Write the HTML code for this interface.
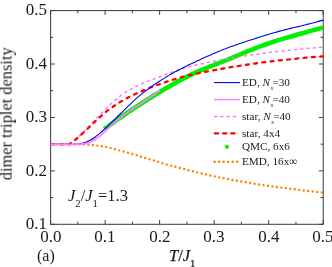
<!DOCTYPE html>
<html><head><meta charset="utf-8"><style>
html,body{margin:0;padding:0;background:#fff;}
body{width:332px;height:267px;position:relative;overflow:hidden;font-family:"Liberation Serif",serif;color:#1a1a1a;}
.t{will-change:transform;position:absolute;white-space:nowrap;line-height:1;}
.xl{font-size:16.2px;top:229.3px;width:40px;text-align:center;transform:scaleX(1.05);}
.yl{font-size:16.2px;left:0;width:47px;text-align:right;transform:scaleX(1.05);transform-origin:100% 50%;}
.lg{font-size:11px;left:242px;}
i{font-style:italic;}
sub{font-size:65%;vertical-align:baseline;position:relative;top:0.58em;}
.lg{font-size:11.2px;}
.lg sub{font-style:italic;font-size:60%;top:0.55em;margin-left:0.4px;margin-right:-0.6px;}
</style></head><body>
<svg width="332" height="267" viewBox="0 0 332 267" style="position:absolute;left:0;top:0">
<defs><clipPath id="c"><rect x="50.1" y="10.1" width="273.7" height="214.7"/></clipPath></defs>
<g stroke="#3a3a3a" stroke-width="1" fill="none">
<rect x="50.6" y="10.6" width="272.6" height="213.7"/>
<path d="M50.60 224.30 v-4.3 M50.60 10.60 v4.3"/>
<path d="M77.86 224.30 v-2.6 M77.86 10.60 v2.6"/>
<path d="M105.12 224.30 v-4.3 M105.12 10.60 v4.3"/>
<path d="M132.38 224.30 v-2.6 M132.38 10.60 v2.6"/>
<path d="M159.64 224.30 v-4.3 M159.64 10.60 v4.3"/>
<path d="M186.90 224.30 v-2.6 M186.90 10.60 v2.6"/>
<path d="M214.16 224.30 v-4.3 M214.16 10.60 v4.3"/>
<path d="M241.42 224.30 v-2.6 M241.42 10.60 v2.6"/>
<path d="M268.68 224.30 v-4.3 M268.68 10.60 v4.3"/>
<path d="M295.94 224.30 v-2.6 M295.94 10.60 v2.6"/>
<path d="M323.20 224.30 v-4.3 M323.20 10.60 v4.3"/>
<path d="M50.60 224.30 h4.3 M323.20 224.30 h-4.3"/>
<path d="M50.60 197.59 h2.6 M323.20 197.59 h-2.6"/>
<path d="M50.60 170.88 h4.3 M323.20 170.88 h-4.3"/>
<path d="M50.60 144.16 h2.6 M323.20 144.16 h-2.6"/>
<path d="M50.60 117.45 h4.3 M323.20 117.45 h-4.3"/>
<path d="M50.60 90.74 h2.6 M323.20 90.74 h-2.6"/>
<path d="M50.60 64.02 h4.3 M323.20 64.02 h-4.3"/>
<path d="M50.60 37.31 h2.6 M323.20 37.31 h-2.6"/>
<path d="M50.60 10.60 h4.3 M323.20 10.60 h-4.3"/>
</g>
<g fill="none" clip-path="url(#c)">
<path d="M104.3 129.2 L109.3 125.5C110.1 124.8 112.6 123.0 114.3 121.8C116.0 120.6 117.6 119.4 119.3 118.2C121.0 117.1 122.6 115.9 124.3 114.8C126.0 113.6 127.6 112.5 129.3 111.4C131.0 110.3 132.6 109.2 134.3 108.1C136.0 107.0 137.6 105.9 139.3 104.8C141.0 103.7 142.6 102.7 144.3 101.6C146.0 100.5 147.6 99.5 149.3 98.4C151.0 97.4 152.6 96.4 154.3 95.3C156.0 94.3 157.6 93.3 159.3 92.3C161.0 91.3 162.6 90.3 164.3 89.3C166.0 88.3 167.6 87.4 169.3 86.4C171.0 85.4 172.6 84.5 174.3 83.5C176.0 82.6 177.6 81.7 179.3 80.8C181.0 79.9 182.6 79.0 184.3 78.1C186.0 77.3 187.6 76.4 189.3 75.6C191.0 74.8 192.6 74.0 194.3 73.2C196.0 72.4 197.6 71.7 199.3 71.0C201.0 70.2 202.6 69.5 204.3 68.8C206.0 68.1 207.6 67.4 209.3 66.8C211.0 66.1 212.6 65.5 214.3 64.8C216.0 64.2 217.6 63.5 219.3 62.9C221.0 62.2 222.6 61.6 224.3 60.9C226.0 60.3 227.6 59.6 229.3 58.9C231.0 58.3 232.6 57.6 234.3 56.9C236.0 56.2 237.6 55.5 239.3 54.8C241.0 54.1 242.6 53.4 244.3 52.7C246.0 52.0 247.6 51.3 249.3 50.6C251.0 50.0 252.6 49.3 254.3 48.6C256.0 48.0 257.6 47.3 259.3 46.7C261.0 46.1 262.6 45.5 264.3 44.9C266.0 44.3 267.6 43.7 269.3 43.2C271.0 42.6 272.6 42.0 274.3 41.5C276.0 41.0 277.6 40.5 279.3 39.9C281.0 39.4 282.6 38.9 284.3 38.4C286.0 37.9 287.6 37.4 289.3 37.0C291.0 36.5 292.6 36.0 294.3 35.5C296.0 35.0 297.6 34.5 299.3 34.1C301.0 33.6 302.6 33.1 304.3 32.7C306.0 32.2 307.6 31.7 309.3 31.3C311.0 30.8 312.6 30.4 314.3 29.9C316.0 29.5 317.8 29.0 319.3 28.6C320.8 28.2 322.6 27.8 323.2 27.6" stroke="#00f000" stroke-width="4.6"/>
<path d="M50.6 144.3C51.4 144.3 53.9 144.3 55.6 144.3C57.3 144.3 58.9 144.3 60.6 144.3C62.3 144.3 63.9 144.3 65.6 144.3C67.3 144.3 68.9 144.3 70.6 144.3C72.3 144.3 73.9 144.3 75.6 144.3C77.3 144.3 78.9 144.3 80.6 144.3C82.3 144.4 83.9 144.4 85.6 144.5C87.3 144.6 88.9 144.7 90.6 144.8C92.3 145.0 93.9 145.1 95.6 145.4C97.3 145.6 98.9 145.8 100.6 146.1C102.3 146.4 103.9 146.7 105.6 147.0C107.3 147.3 108.9 147.7 110.6 148.1C112.3 148.5 113.9 148.9 115.6 149.3C117.3 149.8 118.9 150.2 120.6 150.7C122.3 151.1 123.9 151.6 125.6 152.1C127.3 152.6 128.9 153.0 130.6 153.5C132.3 154.0 133.9 154.5 135.6 155.0C137.3 155.5 138.9 156.1 140.6 156.6C142.3 157.1 143.9 157.6 145.6 158.1C147.3 158.6 148.9 159.1 150.6 159.6C152.3 160.1 153.9 160.6 155.6 161.1C157.3 161.6 158.9 162.1 160.6 162.6C162.3 163.1 163.9 163.6 165.6 164.1C167.3 164.5 168.9 165.0 170.6 165.5C172.3 165.9 173.9 166.4 175.6 166.8C177.3 167.3 178.9 167.7 180.6 168.2C182.3 168.6 183.9 169.0 185.6 169.4C187.3 169.9 188.9 170.3 190.6 170.7C192.3 171.1 193.9 171.5 195.6 171.9C197.3 172.4 198.9 172.8 200.6 173.2C202.3 173.6 203.9 174.0 205.6 174.3C207.3 174.7 208.9 175.1 210.6 175.5C212.3 175.9 213.9 176.2 215.6 176.6C217.3 176.9 218.9 177.3 220.6 177.6C222.3 178.0 223.9 178.3 225.6 178.6C227.3 179.0 228.9 179.3 230.6 179.6C232.3 179.9 233.9 180.2 235.6 180.5C237.3 180.8 238.9 181.1 240.6 181.4C242.3 181.7 243.9 182.0 245.6 182.2C247.3 182.5 248.9 182.8 250.6 183.1C252.3 183.4 253.9 183.6 255.6 183.9C257.3 184.2 258.9 184.4 260.6 184.7C262.3 184.9 263.9 185.2 265.6 185.4C267.3 185.7 268.9 185.9 270.6 186.1C272.3 186.4 273.9 186.6 275.6 186.8C277.3 187.0 278.9 187.3 280.6 187.5C282.3 187.7 283.9 187.9 285.6 188.1C287.3 188.3 288.9 188.5 290.6 188.8C292.3 189.0 293.9 189.2 295.6 189.4C297.3 189.6 298.9 189.8 300.6 190.1C302.3 190.3 303.9 190.5 305.6 190.7C307.3 190.9 308.9 191.1 310.6 191.3C312.3 191.5 313.9 191.7 315.6 191.9C317.3 192.0 319.3 192.3 320.6 192.4C321.9 192.5 322.8 192.7 323.2 192.7" stroke="#ff8000" stroke-width="2.4" stroke-linecap="round" stroke-dasharray="0 4.5" stroke-dashoffset="-1.8"/>
<path d="M50.6 144.3 L68.8 144.3C69.6 143.7 72.1 141.9 73.8 140.6C75.5 139.3 77.1 137.9 78.8 136.4C80.5 134.9 82.1 133.4 83.8 131.7C85.5 130.1 87.1 128.4 88.8 126.7C90.5 124.9 92.1 123.2 93.8 121.4C95.5 119.6 97.1 117.8 98.8 116.0C100.5 114.3 102.1 112.5 103.8 110.8C105.5 109.1 107.1 107.4 108.8 105.9C110.5 104.3 112.1 102.8 113.8 101.3C115.5 99.9 117.1 98.5 118.8 97.2C120.5 95.9 122.1 94.7 123.8 93.6C125.5 92.4 127.1 91.4 128.8 90.4C130.5 89.4 132.1 88.4 133.8 87.5C135.5 86.7 137.1 85.8 138.8 85.1C140.5 84.3 142.1 83.6 143.8 82.9C145.5 82.2 147.1 81.5 148.8 80.9C150.5 80.2 152.1 79.6 153.8 79.0C155.5 78.3 157.1 77.7 158.8 77.1C160.5 76.4 162.1 75.8 163.8 75.2C165.5 74.5 167.1 73.9 168.8 73.3C170.5 72.7 172.1 72.1 173.8 71.5C175.5 70.9 177.1 70.3 178.8 69.8C180.5 69.2 182.1 68.7 183.8 68.2C185.5 67.7 187.1 67.3 188.8 66.8C190.5 66.4 192.1 65.9 193.8 65.5C195.5 65.1 197.1 64.7 198.8 64.4C200.5 64.0 202.1 63.6 203.8 63.3C205.5 62.9 207.1 62.6 208.8 62.3C210.5 61.9 212.1 61.6 213.8 61.3C215.5 61.0 217.1 60.7 218.8 60.3C220.5 60.0 222.1 59.7 223.8 59.4C225.5 59.1 227.1 58.8 228.8 58.6C230.5 58.3 232.1 58.0 233.8 57.7C235.5 57.4 237.1 57.2 238.8 56.9C240.5 56.6 242.1 56.4 243.8 56.1C245.5 55.8 247.1 55.6 248.8 55.3C250.5 55.1 252.1 54.8 253.8 54.6C255.5 54.4 257.1 54.1 258.8 53.9C260.5 53.7 262.1 53.4 263.8 53.2C265.5 53.0 267.1 52.8 268.8 52.6C270.5 52.4 272.1 52.2 273.8 52.0C275.5 51.8 277.1 51.6 278.8 51.4C280.5 51.2 282.1 51.1 283.8 50.9C285.5 50.7 287.1 50.5 288.8 50.3C290.5 50.2 292.1 50.0 293.8 49.8C295.5 49.6 297.1 49.5 298.8 49.3C300.5 49.1 302.1 49.0 303.8 48.8C305.5 48.6 307.1 48.5 308.8 48.3C310.5 48.2 312.1 48.0 313.8 47.9C315.5 47.7 317.2 47.6 318.8 47.4C320.4 47.3 322.5 47.1 323.2 47.0" stroke="#f97cf9" stroke-width="1.5" stroke-linecap="round" stroke-dasharray="2.1 4.2"/>
<path d="M50.6 144.3 L69.3 144.3C70.1 143.7 72.6 141.9 74.3 140.6C76.0 139.3 77.6 137.8 79.3 136.4C81.0 134.9 82.6 133.4 84.3 131.8C86.0 130.2 87.6 128.6 89.3 127.0C91.0 125.4 92.6 123.8 94.3 122.2C96.0 120.6 97.6 119.1 99.3 117.6C101.0 116.1 102.6 114.6 104.3 113.3C106.0 111.9 107.6 110.6 109.3 109.3C111.0 108.1 112.6 106.9 114.3 105.8C116.0 104.6 117.6 103.6 119.3 102.5C121.0 101.5 122.6 100.6 124.3 99.6C126.0 98.7 127.6 97.8 129.3 97.0C131.0 96.1 132.6 95.3 134.3 94.5C136.0 93.7 137.6 92.9 139.3 92.2C141.0 91.5 142.6 90.8 144.3 90.1C146.0 89.4 147.6 88.7 149.3 88.0C151.0 87.4 152.6 86.7 154.3 86.1C156.0 85.5 157.6 84.8 159.3 84.3C161.0 83.7 162.6 83.1 164.3 82.5C166.0 81.9 167.6 81.4 169.3 80.9C171.0 80.3 172.6 79.8 174.3 79.3C176.0 78.8 177.6 78.3 179.3 77.9C181.0 77.4 182.6 76.9 184.3 76.5C186.0 76.1 187.6 75.7 189.3 75.2C191.0 74.8 192.6 74.5 194.3 74.1C196.0 73.7 197.6 73.4 199.3 73.0C201.0 72.7 202.6 72.3 204.3 72.0C206.0 71.7 207.6 71.4 209.3 71.0C211.0 70.7 212.6 70.4 214.3 70.1C216.0 69.8 217.6 69.5 219.3 69.2C221.0 68.9 222.6 68.6 224.3 68.3C226.0 68.0 227.6 67.7 229.3 67.4C231.0 67.2 232.6 66.9 234.3 66.6C236.0 66.4 237.6 66.1 239.3 65.9C241.0 65.6 242.6 65.4 244.3 65.1C246.0 64.9 247.6 64.6 249.3 64.4C251.0 64.1 252.6 63.9 254.3 63.6C256.0 63.4 257.6 63.1 259.3 62.9C261.0 62.7 262.6 62.4 264.3 62.2C266.0 62.0 267.6 61.8 269.3 61.6C271.0 61.4 272.6 61.2 274.3 61.0C276.0 60.8 277.6 60.6 279.3 60.4C281.0 60.2 282.6 60.1 284.3 59.9C286.0 59.7 287.6 59.5 289.3 59.4C291.0 59.2 292.6 59.0 294.3 58.9C296.0 58.7 297.6 58.5 299.3 58.4C301.0 58.2 302.6 58.0 304.3 57.9C306.0 57.7 307.6 57.6 309.3 57.4C311.0 57.3 312.6 57.1 314.3 57.0C316.0 56.9 317.8 56.7 319.3 56.6C320.8 56.5 322.6 56.3 323.2 56.3" stroke="#ff0000" stroke-width="2.3" stroke-linecap="round" stroke-dasharray="2.9 5.4" stroke-dashoffset="-1.2"/>
<path d="M50.6 144.3C51.4 144.3 53.9 144.3 55.6 144.3C57.3 144.3 58.9 144.3 60.6 144.3C62.3 144.3 63.9 144.3 65.6 144.3C67.3 144.3 68.9 144.3 70.6 144.3C72.3 144.3 73.9 144.4 75.6 144.3C77.3 144.1 78.9 144.0 80.6 143.7C82.3 143.4 83.9 143.0 85.6 142.3C87.3 141.7 88.9 140.9 90.6 140.0C92.3 139.1 93.9 138.0 95.6 136.7C97.3 135.5 98.9 134.1 100.6 132.7C102.3 131.3 103.9 129.7 105.6 128.2C107.3 126.6 108.9 125.0 110.6 123.4C112.3 121.8 113.9 120.1 115.6 118.5C117.3 116.8 118.9 115.2 120.6 113.5C122.3 111.9 123.9 110.2 125.6 108.6C127.3 107.0 128.9 105.4 130.6 103.8C132.3 102.2 133.9 100.7 135.6 99.2C137.3 97.7 138.9 96.3 140.6 94.9C142.3 93.5 143.9 92.2 145.6 90.9C147.3 89.6 148.9 88.4 150.6 87.2C152.3 86.0 153.9 84.9 155.6 83.7C157.3 82.6 158.9 81.5 160.6 80.5C162.3 79.4 163.9 78.4 165.6 77.4C167.3 76.4 168.9 75.4 170.6 74.4C172.3 73.5 173.9 72.5 175.6 71.6C177.3 70.7 178.9 69.8 180.6 69.0C182.3 68.1 183.9 67.3 185.6 66.5C187.3 65.7 188.9 64.8 190.6 64.1C192.3 63.3 193.9 62.5 195.6 61.7C197.3 60.9 198.9 60.1 200.6 59.4C202.3 58.6 203.9 57.8 205.6 57.1C207.3 56.3 208.9 55.6 210.6 54.9C212.3 54.1 213.9 53.4 215.6 52.7C217.3 52.0 218.9 51.3 220.6 50.7C222.3 50.0 223.9 49.3 225.6 48.7C227.3 48.0 228.9 47.4 230.6 46.8C232.3 46.2 233.9 45.6 235.6 45.0C237.3 44.4 238.9 43.9 240.6 43.3C242.3 42.8 243.9 42.2 245.6 41.7C247.3 41.1 248.9 40.6 250.6 40.0C252.3 39.5 253.9 39.0 255.6 38.4C257.3 37.9 258.9 37.4 260.6 36.8C262.3 36.3 263.9 35.8 265.6 35.3C267.3 34.8 268.9 34.3 270.6 33.8C272.3 33.3 273.9 32.8 275.6 32.3C277.3 31.8 278.9 31.4 280.6 30.9C282.3 30.5 283.9 30.0 285.6 29.6C287.3 29.2 288.9 28.8 290.6 28.4C292.3 28.0 293.9 27.6 295.6 27.2C297.3 26.8 298.9 26.4 300.6 26.0C302.3 25.5 303.9 25.1 305.6 24.7C307.3 24.3 308.9 23.9 310.6 23.5C312.3 23.0 313.9 22.6 315.6 22.2C317.3 21.8 319.3 21.3 320.6 20.9C321.9 20.6 322.8 20.3 323.2 20.2" stroke="#0000ee" stroke-width="1.1"/>
<path d="M50.6 144.3C51.4 144.3 53.9 144.3 55.6 144.3C57.3 144.3 58.9 144.3 60.6 144.3C62.3 144.3 63.9 144.3 65.6 144.3C67.3 144.3 68.9 144.3 70.6 144.3C72.3 144.3 73.9 144.3 75.6 144.3C77.3 144.3 78.9 144.3 80.6 144.2C82.3 144.1 83.9 143.9 85.6 143.6C87.3 143.2 88.9 142.7 90.6 142.0C92.3 141.3 93.9 140.3 95.6 139.2C97.3 138.1 98.9 136.7 100.6 135.3C102.3 133.9 103.9 132.3 105.6 130.8C107.3 129.2 108.9 127.6 110.6 126.1C112.3 124.6 113.9 123.1 115.6 121.7C117.3 120.3 118.9 118.9 120.6 117.7C122.3 116.4 123.9 115.1 125.6 113.9C127.3 112.7 128.9 111.6 130.6 110.4C132.3 109.3 133.9 108.1 135.6 107.0C137.3 105.9 138.9 104.8 140.6 103.7C142.3 102.6 143.9 101.5 145.6 100.4C147.3 99.3 148.9 98.1 150.6 97.0C152.3 95.9 154.0 94.8 155.6 93.6C157.2 92.5 159.3 90.8 160.0 90.2" stroke="#ff80ff" stroke-width="1.7"/>
</g>
<g fill="none">
<path d="M214 82.6 h26" stroke="#0000ee" stroke-width="1.1"/>
<path d="M214 99.6 h26" stroke="#ff80ff" stroke-width="1.4"/>
<path d="M214.6 116.4 h22" stroke="#f97cf9" stroke-width="1.5" stroke-linecap="round" stroke-dasharray="2.1 4.2"/>
<path d="M214.8 133.3 h21" stroke="#ff0000" stroke-width="2.3" stroke-linecap="round" stroke-dasharray="3.4 4.8"/>
<circle cx="226.9" cy="146.8" r="2.1" fill="#00f000"/>
<path d="M214.6 161.7 h24" stroke="#ff8000" stroke-width="2.5" stroke-linecap="round" stroke-dasharray="0 4.52"/>
</g>
</svg>
<div class="t yl" style="top:2.3px">0.5</div>
<div class="t yl" style="top:55.7px">0.4</div>
<div class="t yl" style="top:109.1px">0.3</div>
<div class="t yl" style="top:162.5px">0.2</div>
<div class="t yl" style="top:215.9px">0.1</div>
<div class="t xl" style="left:30.5px">0.0</div>
<div class="t xl" style="left:85px">0.1</div>
<div class="t xl" style="left:139.5px">0.2</div>
<div class="t xl" style="left:194px">0.3</div>
<div class="t xl" style="left:248.5px">0.4</div>
<div class="t xl" style="left:303.2px">0.5</div>
<div class="t" style="font-size:16px;left:36.8px;top:248.3px">(a)</div>
<div class="t" style="font-size:16.5px;left:169px;top:247.5px;-webkit-text-stroke:0.25px #1a1a1a"><i>T</i>/<i>J</i><sub>1</sub></div>
<div class="t" style="font-size:16.5px;left:68px;top:187.8px"><i>J</i><sub>2</sub>/<i>J</i><sub>1</sub>=1.3</div>
<div class="t" style="font-size:16.4px;left:0;top:0;transform-origin:0 0;transform:translate(-1.4px,180.3px) rotate(-90deg)">dimer triplet density</div>
<div class="t lg" style="top:76.5px">ED, <i>N</i><sub>s</sub>=30</div>
<div class="t lg" style="top:93.7px">ED, <i>N</i><sub>s</sub>=40</div>
<div class="t lg" style="top:110.8px">star, <i>N</i><sub>s</sub>=40</div>
<div class="t lg" style="top:127.5px">star, 4x4</div>
<div class="t lg" style="top:141.3px">QMC, 6x6</div>
<div class="t lg" style="top:155.8px">EMD, 16x&infin;</div>
</body></html>
